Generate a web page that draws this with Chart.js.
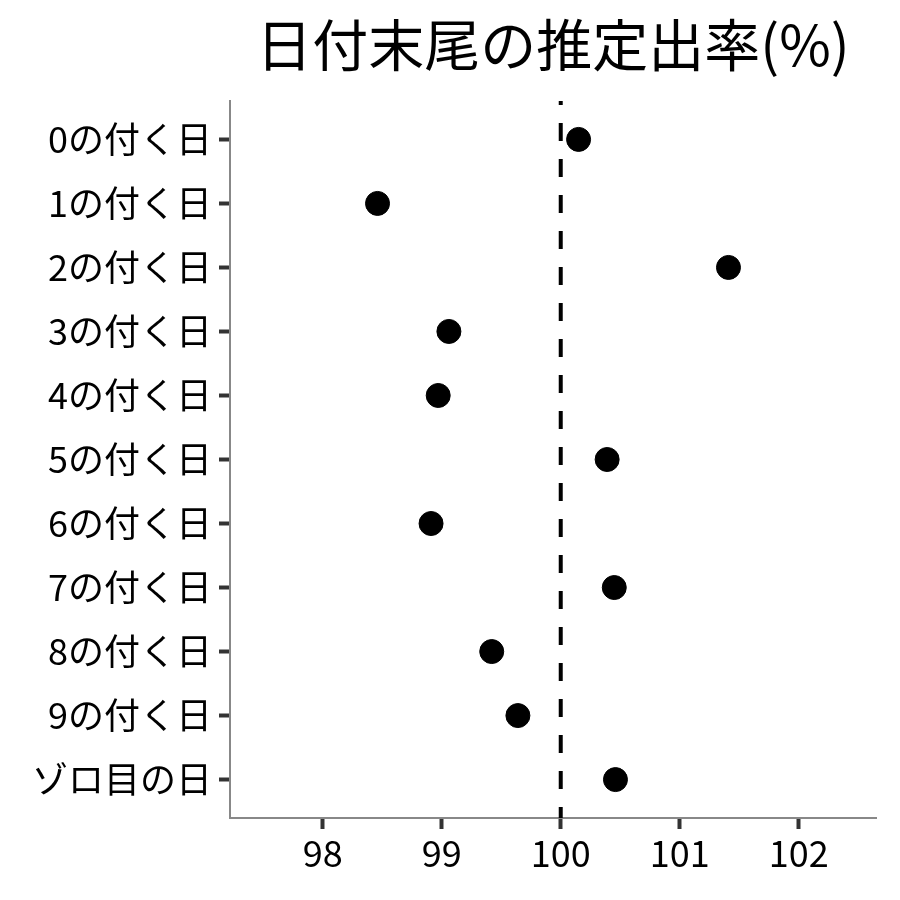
<!DOCTYPE html>
<html>
<head>
<meta charset="utf-8">
<script src="https://cdn.jsdelivr.net/npm/chart.js@4/dist/chart.umd.min.js"></script>
<style>
  html, body { margin: 0; padding: 0; background: #fff; }
</style>
</head>
<body>
<canvas id="chart" width="900" height="900"></canvas>
<script>
// データ
const categories = ['0の付く日', '1の付く日', '2の付く日', '3の付く日', '4の付く日', '5の付く日',
                    '6の付く日', '7の付く日', '8の付く日', '9の付く日', 'ゾロ目の日'];
const rates = [100.15, 98.46, 101.41, 99.06, 98.97, 100.39, 98.91, 100.45, 99.42, 99.64, 100.46];
const xTicks = [98, 99, 100, 101, 102];
const refValue = 100;
const titleText = '日付末尾の推定出率(%)';

const FONT = "'Noto Sans CJK JP', 'Noto Sans', sans-serif";

// タイトルはプロット領域の中央に描く
const titlePlugin = {
    id: 'plotTitle',
    afterDraw(chart) {
        const { ctx, chartArea } = chart;
        ctx.save();
        ctx.font = `56px ${FONT}`;
        ctx.fillStyle = '#000';
        ctx.textAlign = 'center';
        ctx.textBaseline = 'middle';
        ctx.fillText(titleText, (chartArea.left + chartArea.right) / 2, 45);
        ctx.restore();
    }
};

const points = rates.map((v, i) => ({ x: v, y: i }));

new Chart(document.getElementById('chart'), {
    type: 'scatter',
    data: {
        datasets: [
            {
                type: 'line',
                data: [{ x: refValue, y: -0.6 }, { x: refValue, y: categories.length - 0.4 }],
                borderColor: '#000',
                borderWidth: 4,
                borderDash: [18, 18],
                borderDashOffset: 14,
                borderCapStyle: 'butt',
                pointRadius: 0,
                fill: false
            },
            {
                data: points,
                backgroundColor: '#000',
                borderColor: '#000',
                pointRadius: 12,
                pointHoverRadius: 12
            }
        ]
    },
    options: {
        responsive: false,
        animation: false,
        layout: { padding: { top: 101, right: 24, left: 0, bottom: 0 } },
        plugins: {
            legend: { display: false },
            tooltip: { enabled: false },
            title: { display: false }
        },
        scales: {
            x: {
                type: 'linear',
                min: 97.22,
                max: 102.65,
                afterBuildTicks: scale => { scale.ticks = xTicks.map(v => ({ value: v })); },
                afterFit: scale => { scale.height = 82; },
                grid: {
                    drawOnChartArea: false,
                    tickLength: 11,
                    tickWidth: 4,
                    tickColor: '#333'
                },
                border: { color: '#888', width: 2 },
                ticks: {
                    color: '#000',
                    padding: 3,
                    font: { family: FONT, size: 36 }
                }
            },
            y: {
                type: 'linear',
                reverse: true,
                min: -0.6,
                max: categories.length - 0.4,
                afterBuildTicks: scale => { scale.ticks = categories.map((c, i) => ({ value: i })); },
                afterFit: scale => { scale.width = 230; },
                grid: {
                    drawOnChartArea: false,
                    tickLength: 11,
                    tickWidth: 4,
                    tickColor: '#333'
                },
                border: { color: '#888', width: 2 },
                ticks: {
                    color: '#000',
                    padding: 7,
                    autoSkip: false,
                    font: { family: FONT, size: 36 },
                    callback: v => categories[v] ?? ''
                }
            }
        }
    },
    plugins: [titlePlugin]
});
</script>
</body>
</html>
